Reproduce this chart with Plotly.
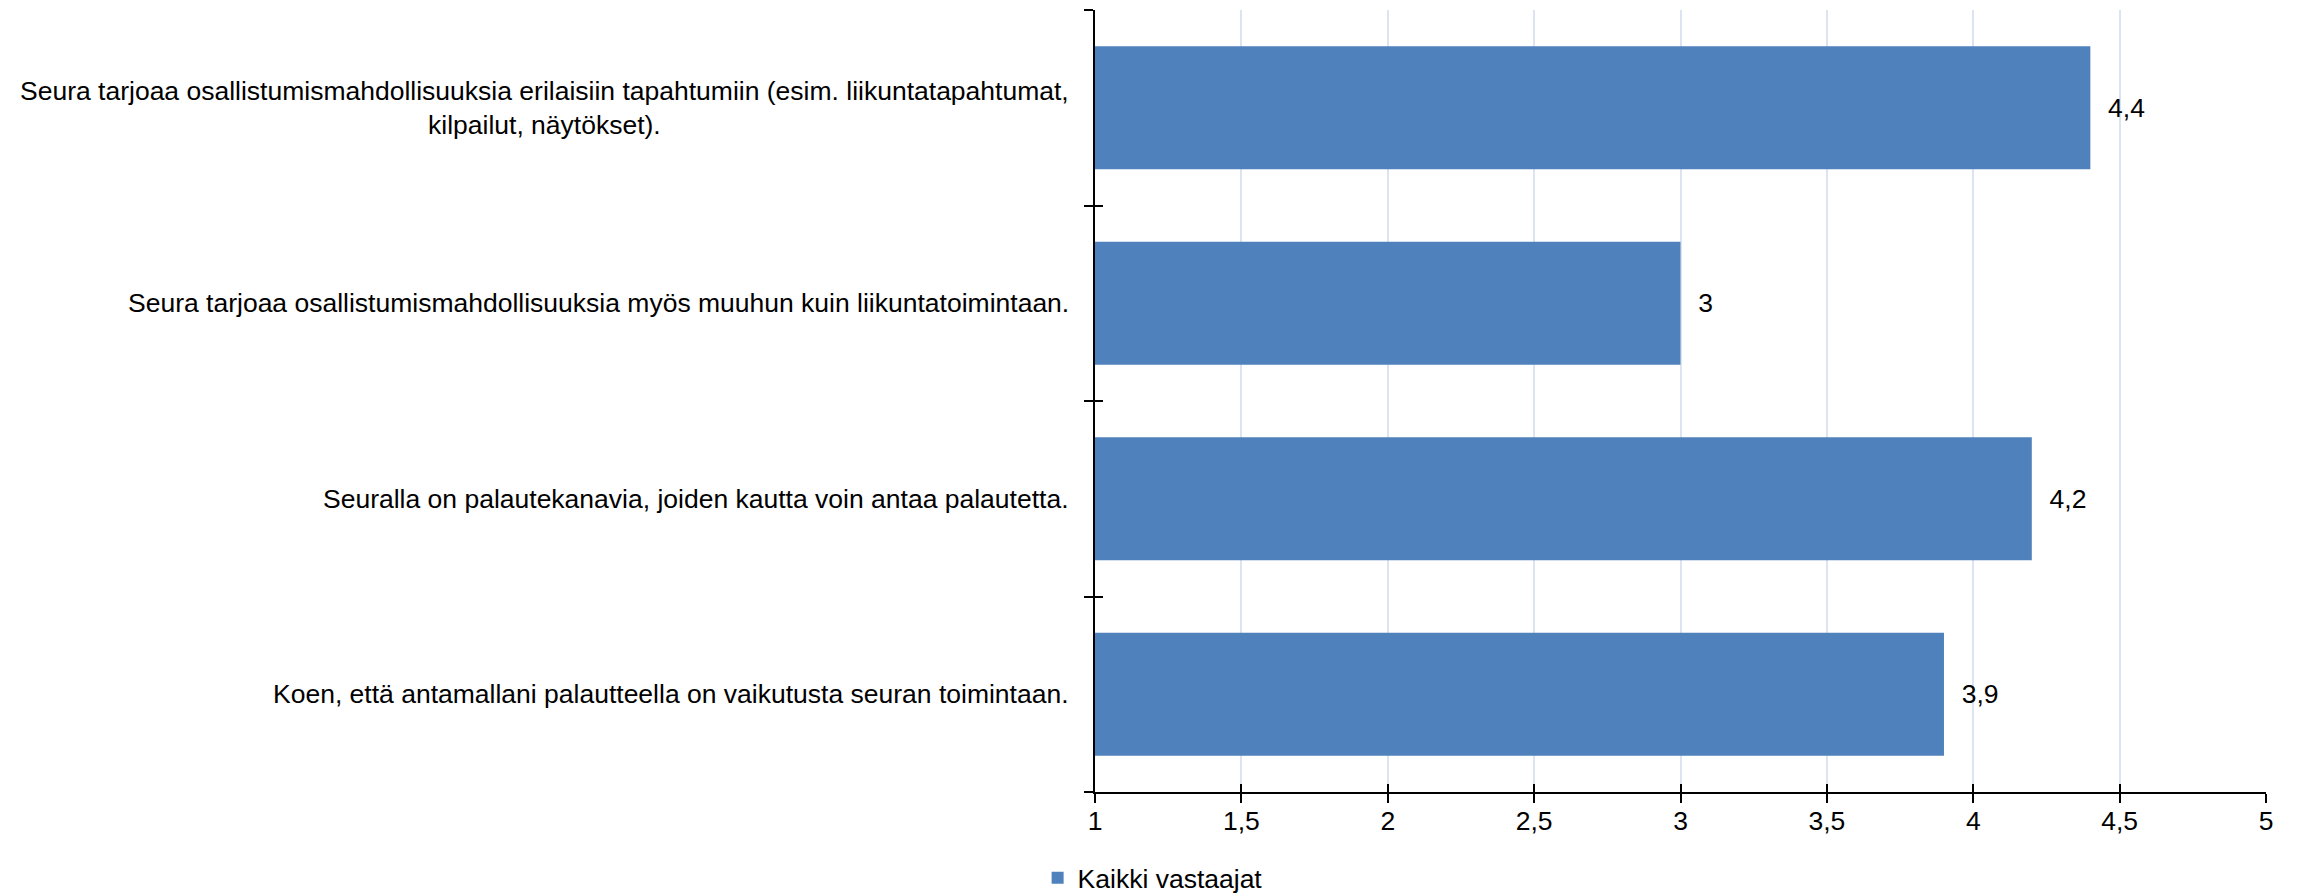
import plotly.graph_objects as go

# Statements (top to bottom) and mean scores for all respondents
categories = [
    "Seura tarjoaa osallistumismahdollisuuksia erilaisiin tapahtumiin (esim. liikuntatapahtumat,<br>kilpailut, näytökset).",
    "Seura tarjoaa osallistumismahdollisuuksia myös muuhun kuin liikuntatoimintaan.",
    "Seuralla on palautekanavia, joiden kautta voin antaa palautetta.",
    "Koen, että antamallani palautteella on vaikutusta seuran toimintaan.",
]
values = [4.4, 3.0, 4.2, 3.9]
series_name = "Kaikki vastaajat"

x_range = [1, 5]
x_step = 0.5

BAR_COLOR = "#4f81bd"
GRID_COLOR = "#dbe4f0"
FONT = "Liberation Sans, Arial, sans-serif"
FS = 26.5

positions = list(range(len(categories)))
boundaries = [p - 0.5 for p in positions] + [positions[-1] + 0.5]
y_range = [positions[-1] + 0.5, positions[0] - 0.5]


def fmt(v):
    return f"{v:g}".replace(".", ",")


fig = go.Figure()
fig.add_trace(go.Bar(
    x=values,
    y=positions,
    orientation="h",
    name=series_name,
    marker=dict(color=BAR_COLOR, line=dict(width=0)),
    width=0.63,
    text=["\u00a0\u00a0" + fmt(v) for v in values],
    textposition="outside",
    textfont=dict(family=FONT, size=FS, color="#000000"),
    cliponaxis=False,
    showlegend=True,
))

# invisible helper trace so the overlay axes (inner tick halves) are drawn
fig.add_trace(go.Scatter(x=[None], y=[None], xaxis="x2", yaxis="y2",
                         showlegend=False, hoverinfo="skip"))

tick_vals_x = [x_range[0] + i * x_step for i in range(int((x_range[1] - x_range[0]) / x_step) + 1)]

fig.update_layout(
    width=2303,
    height=895,
    margin=dict(l=1095, r=37, t=10, b=103, autoexpand=False),
    paper_bgcolor="white",
    plot_bgcolor="white",
    separators=", ",
    font=dict(family=FONT, size=FS, color="#000000"),
    xaxis=dict(
        range=x_range,
        tickvals=tick_vals_x,
        ticktext=[fmt(v) for v in tick_vals_x],
        showgrid=True,
        gridcolor=GRID_COLOR,
        gridwidth=2,
        zeroline=False,
        showline=True,
        linecolor="#000000",
        linewidth=2,
        ticks="outside",
        ticklen=9,
        tickwidth=2,
        tickcolor="#000000",
        tickfont=dict(family=FONT, size=FS),
        ticklabelstandoff=-5,
        automargin=False,
    ),
    yaxis=dict(
        range=y_range,
        tickvals=boundaries,
        showticklabels=False,
        showgrid=False,
        zeroline=False,
        showline=True,
        linecolor="#000000",
        linewidth=2,
        ticks="outside",
        ticklen=9,
        tickwidth=2,
        tickcolor="#000000",
        automargin=False,
    ),
    xaxis2=dict(
        overlaying="x",
        anchor="y2",
        side="bottom",
        range=x_range,
        tickvals=tick_vals_x,
        showticklabels=False,
        showgrid=False,
        zeroline=False,
        showline=False,
        ticks="inside",
        ticklen=8,
        tickwidth=2,
        tickcolor="#000000",
    ),
    yaxis2=dict(
        overlaying="y",
        anchor="x2",
        side="left",
        range=y_range,
        tickvals=boundaries,
        showticklabels=False,
        showgrid=False,
        zeroline=False,
        showline=False,
        ticks="inside",
        ticklen=8,
        tickwidth=2,
        tickcolor="#000000",
    ),
    legend=dict(
        orientation="h",
        x=-0.049,
        xanchor="left",
        y=-0.11,
        yanchor="middle",
        font=dict(family=FONT, size=FS),
        bgcolor="rgba(0,0,0,0)",
        itemwidth=30,
    ),
    bargap=0.37,
)

# category labels, right-aligned to the axis with centred line wrapping
for p, label in zip(positions, categories):
    fig.add_annotation(
        x=0, xref="paper", xanchor="right", xshift=-24,
        y=p, yref="y", yanchor="middle",
        text=label, showarrow=False, align="center",
        font=dict(family=FONT, size=FS, color="#000000"),
    )

fig.write_html("out.html")
